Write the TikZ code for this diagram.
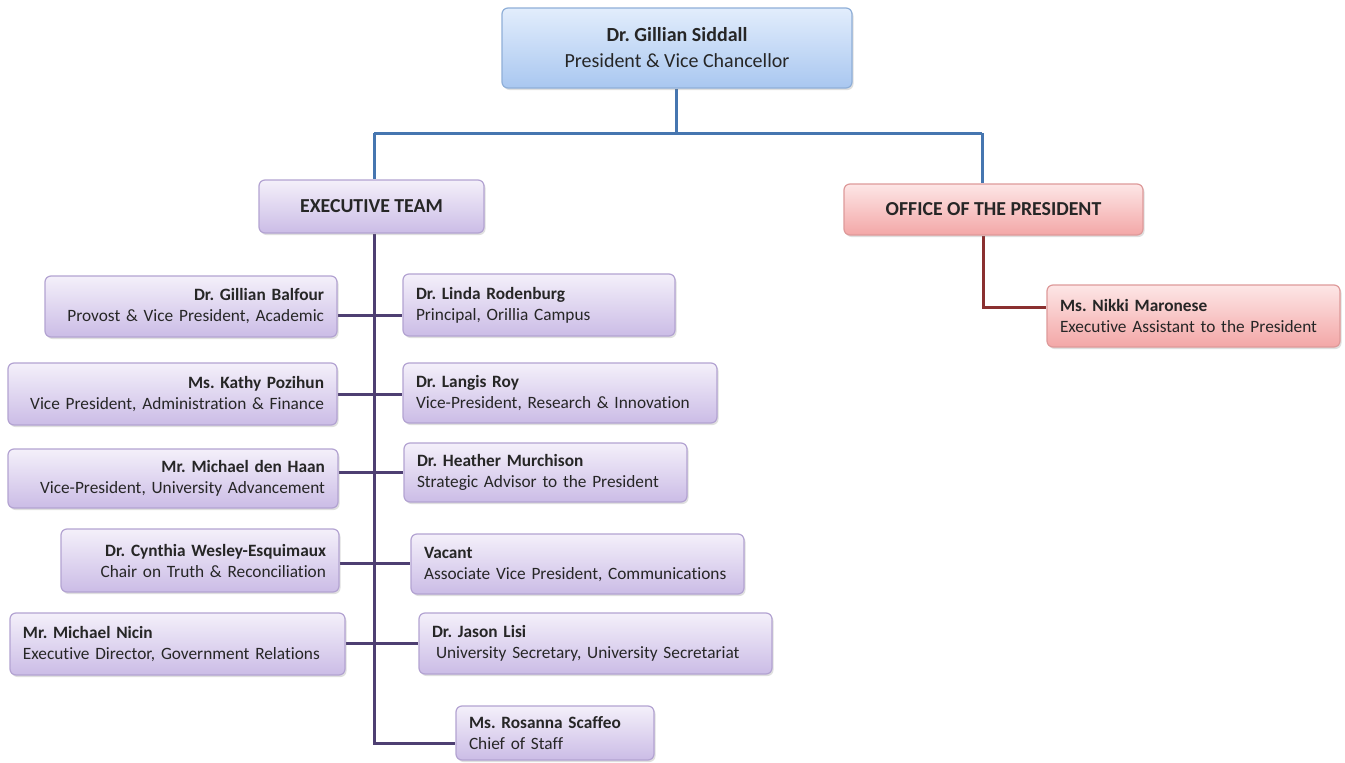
\documentclass[tikz,border=0pt]{standalone}
\usepackage{fontspec}
\setmainfont[Ligatures={NoCommon}]{Carlito}
\usetikzlibrary{shadows,backgrounds}
\definecolor{bluefillA}{HTML}{E2EDFC}
\definecolor{bluefillB}{HTML}{A9C7F0}
\definecolor{blueedge}{HTML}{8FAFD8}
\definecolor{bluelinec}{HTML}{4676B0}
\definecolor{purpfillA}{HTML}{F4F0FA}
\definecolor{purpfillB}{HTML}{CBBCE6}
\definecolor{purpedge}{HTML}{B3A3D2}
\definecolor{purplinec}{HTML}{4E3F72}
\definecolor{redfillA}{HTML}{FDE6E6}
\definecolor{redfillB}{HTML}{F3A7A7}
\definecolor{rededge}{HTML}{DE9A9A}
\definecolor{redlinec}{HTML}{8A3030}
\definecolor{txtc}{HTML}{262626}
\tikzset{
  x=1pt, y=-1pt,
  basebox/.style={rounded corners=6pt, line width=1.2pt, text=txtc,
    drop shadow={opacity=0.25, shadow xshift=1.5pt, shadow yshift=-2pt},
    inner xsep=13pt, inner ysep=0pt},
  bluebox/.style={basebox, draw=blueedge, top color=bluefillA, bottom color=bluefillB},
  purpbox/.style={basebox, draw=purpedge, top color=purpfillA, bottom color=purpfillB},
  redbox/.style={basebox, draw=rededge, top color=redfillA, bottom color=redfillB},
  leaf/.style={font=\fontsize{17.3}{21}\selectfont},
  lbox/.style={purpbox, leaf, align=right},
  rbox/.style={purpbox, leaf, align=left},
  bline/.style={draw=bluelinec, line width=3pt},
  pline/.style={draw=purplinec, line width=3pt},
  rline/.style={draw=redlinec, line width=3pt},
}
\begin{document}
\frenchspacing
\begin{tikzpicture}
\useasboundingbox (0,0) rectangle (1345,763);

% boxes
\node[bluebox, minimum width=350pt, minimum height=80pt, align=center,
  font=\fontsize{20}{26}\selectfont] (top) at (677,48)
  {\textbf{Dr. Gillian Siddall}\\President \& Vice Chancellor};
\node[purpbox, minimum width=225pt, minimum height=53pt,
  font=\fontsize{19.8}{23}\selectfont\bfseries] (exec) at (371.5,206.5) {EXECUTIVE TEAM};
\node[redbox, minimum width=299pt, minimum height=51pt,
  font=\fontsize{19.8}{23}\selectfont\bfseries] (office) at (993.5,209.5) {OFFICE OF THE PRESIDENT};
\node[redbox, leaf, align=left, minimum width=293pt, minimum height=62pt, text width=267pt] (nikki) at (1193.5,316)
  {\textbf{Ms. Nikki Maronese}\\Executive Assistant to the President};

\node[lbox, minimum width=292pt, minimum height=61pt, text width=266pt] (balfour) at (191,306.5)
  {\textbf{Dr. Gillian Balfour}\\Provost \& Vice President, Academic};
\node[rbox, minimum width=272pt, minimum height=62pt, text width=246pt] (linda) at (539,305)
  {\textbf{Dr. Linda Rodenburg}\\Principal, Orillia Campus};
\node[lbox, minimum width=329pt, minimum height=62pt, text width=303pt] (pozihun) at (172.5,394)
  {\textbf{Ms. Kathy Pozihun}\\Vice President, Administration \& Finance};
\node[rbox, minimum width=314pt, minimum height=60pt, text width=288pt] (roy) at (560,393)
  {\textbf{Dr. Langis Roy}\\Vice-President, Research \& Innovation};
\node[lbox, minimum width=330pt, minimum height=59pt, text width=304pt] (denhaan) at (173,478.5)
  {\textbf{Mr. Michael den Haan}\\Vice-President, University Advancement};
\node[rbox, minimum width=283pt, minimum height=59pt, text width=257pt] (murchison) at (545.5,472.5)
  {\textbf{Dr. Heather Murchison}\\Strategic Advisor to the President};
\node[lbox, minimum width=278pt, minimum height=63pt, text width=252pt] (wesley) at (200,560.5)
  {\textbf{Dr. Cynthia Wesley-Esquimaux}\\Chair on Truth \& Reconciliation};
\node[rbox, minimum width=333pt, minimum height=60pt, text width=307pt] (vacant) at (577.5,564)
  {\textbf{Vacant}\\Associate Vice President, Communications};
\node[rbox, minimum width=335pt, minimum height=62pt, text width=309pt] (nicin) at (177.5,644)
  {\textbf{Mr. Michael Nicin}\\Executive Director, Government Relations};
\node[rbox, minimum width=353pt, minimum height=61pt, text width=327pt] (lisi) at (595.5,643.5)
  {\textbf{Dr. Jason Lisi}\\\hspace*{4pt}University Secretary, University Secretariat};
\node[rbox, minimum width=198pt, minimum height=54pt, text width=172pt] (rosanna) at (555,733)
  {\textbf{Ms. Rosanna Scaffeo}\\Chief of Staff};

% junction points
\coordinate (tj) at (676,133);
\coordinate (ej) at (374,133);
\coordinate (oj) at (982,133);
\coordinate (j1) at (374,315);
\coordinate (j2) at (374,394);
\coordinate (j3) at (374,472);
\coordinate (j4) at (374,563);
\coordinate (j5) at (374,643);
\coordinate (j6) at (374,743);
\coordinate (rj) at (983,307);

\begin{scope}[on background layer]
\fill[white] (0,0) rectangle (1345,763);
\draw[bline] (top.south -| tj) -- (tj);
\draw[bline] (ej) -- (oj);
\draw[bline] (ej) -- (exec.north -| ej);
\draw[bline] (oj) -- (office.north -| oj);
\draw[pline] (exec.south -| ej) -- (j6) -- (rosanna.west |- j6);
\draw[pline] (balfour.east |- j1) -- (linda.west |- j1);
\draw[pline] (pozihun.east |- j2) -- (roy.west |- j2);
\draw[pline] (denhaan.east |- j3) -- (murchison.west |- j3);
\draw[pline] (wesley.east |- j4) -- (vacant.west |- j4);
\draw[pline] (nicin.east |- j5) -- (lisi.west |- j5);
\draw[rline] (office.south -| rj) -- (rj) -- (nikki.west |- rj);
\end{scope}
\end{tikzpicture}
\end{document}
